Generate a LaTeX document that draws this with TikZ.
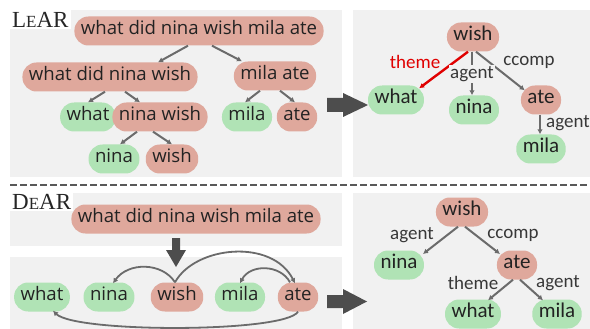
\documentclass[tikz,border=0pt]{standalone}
\usepackage{fontspec}
\usetikzlibrary{arrows.meta,calc}
\newfontfamily\spanfont{Open Sans}
\newfontfamily\graphfont{Carlito}
\newfontfamily\tagfont{Liberation Serif}
\definecolor{panel}{HTML}{F1F1F1}
\definecolor{salmon}{HTML}{DFA89C}
\definecolor{mint}{HTML}{B0E3B5}
\definecolor{edgegray}{HTML}{6B6B6B}
\definecolor{bigarrow}{HTML}{4D4D4D}
\definecolor{txt}{HTML}{222222}
\definecolor{lbltxt}{HTML}{383838}
\definecolor{hilite}{HTML}{E00000}
% hand-made small caps for the method names
\newcommand{\tagbig}[1]{{\fontsize{23}{23}\selectfont #1}}
\newcommand{\tagsml}[1]{{\fontsize{17}{17}\selectfont #1}}
\tikzset{
  tok/.style={rounded corners=14pt, minimum height=29pt, inner xsep=6.5pt, inner ysep=0pt,
    text=txt, text height=0.74em, text depth=0.1em},
  rd/.style={tok, fill=salmon},
  gr/.style={tok, fill=mint},
  spanf/.style={font=\spanfont\fontsize{18.6}{18.6}\selectfont},
  graphf/.style={font=\graphfont\fontsize{21}{21}\selectfont},
  lbl/.style={font=\graphfont\fontsize{19}{19}\selectfont, text=lbltxt, inner sep=1pt},
  edge/.style={draw=edgegray, line width=2pt, -{Latex[length=5pt,width=5.5pt]}},
  arc/.style={draw=edgegray, line width=1.8pt, -{Latex[length=5pt,width=5.5pt]}},
  bgpanel/.style={fill=panel},
  tag/.style={font=\tagfont, fill=white, inner sep=2pt, anchor=north west, text=black!85},
}
\begin{document}
\begin{tikzpicture}[x=1pt,y=-1pt]
\useasboundingbox (0,0) rectangle (590,329);

% background panels
\path[bgpanel] (10,10) rectangle (342,177);
\path[bgpanel] (353,10) rectangle (590,177);
\path[bgpanel] (10,193) rectangle (342,246);
\path[bgpanel] (10,257) rectangle (342,329);
\path[bgpanel] (353,193) rectangle (590,329);
\draw[black!65, line width=1.3pt, dash pattern=on 6.5pt off 3.5pt] (10,185) -- (590,185);

\node[tag] (lear) at (10,10) {\tagbig{L}\tagsml{E}\tagbig{AR}};
\node[tag] (dear) at (10,192) {\tagbig{D}\tagsml{E}\tagbig{AR}};

% ---------- LeAR: span tree ----------
\begin{scope}[spanf]
\node[rd] (root) at (199,31) {what did nina wish mila ate};
\node[rd] (a1) at (110,77) {what did nina wish};
\node[rd] (a2) at (275,76) {mila ate};
\node[gr] (b1) at (88,117) {what};
\node[rd] (b2) at (160,117) {nina wish};
\node[gr] (b3) at (247,117) {mila};
\node[rd] (b4) at (297,117) {ate};
\node[gr] (c1) at (114,159) {nina};
\node[rd] (c2) at (172,159) {wish};
\end{scope}
\draw[edge] ($(root.south)+(-11,0)$) -- ($(a1.north)+(48,0)$);
\draw[edge] ($(root.south)+(13,0)$) -- ($(a2.north)+(-33,0)$);
\draw[edge] ($(a1.south)+(-5,0)$) -- ($(b1.north)+(0,0)$);
\draw[edge] ($(a1.south)+(15,0)$) -- ($(b2.north)+(-20,0)$);
\draw[edge] ($(b2.south)+(-23,0)$) -- ($(c1.north)+(6,0)$);
\draw[edge] ($(b2.south)+(-7,0)$) -- ($(c2.north)+(0,0)$);
\draw[edge] ($(a2.south)+(-15,0)$) -- ($(b3.north)+(-2,0)$);
\draw[edge] ($(a2.south)+(5,0)$) -- ($(b4.north)+(-2,0)$);

% ---------- LeAR: resulting graph ----------
\begin{scope}[graphf]
\node[rd] (tw) at (473,37) {wish};
\node[gr] (twh) at (396,100) {what};
\node[gr] (tn) at (474,110) {nina};
\node[rd] (ta) at (541,100) {ate};
\node[gr] (tm) at (541,149) {mila};
\end{scope}
\draw[edge, draw=hilite, line width=2.4pt] ($(tw.south)+(-5,0)$) -- ($(twh.north east)+(-5,3)$);
\draw[edge] ($(tw.south)+(-1,0)$) -- ($(tn.north)+(-2,0)$);
\draw[edge] ($(tw.south)+(3,0)$) -- ($(ta.north west)+(4,5)$);
\draw[edge] ($(ta.south)+(-1,0)$) -- ($(tm.north)+(-1,0)$);
\node[lbl, text=hilite] (l1) at (415,62) {theme};
\node[lbl, fill=panel] (l2) at (472,74) {agent};
\node[lbl] (l3) at (529,62) {ccomp};
\node[lbl] (l4) at (568,123) {agent};

% big arrows between panels
\fill[bigarrow] (327,98) -- (343,98) -- (343,93) -- (368,105) -- (343,117) -- (343,112) -- (327,112) -- cycle;
\fill[bigarrow] (327,295) -- (343,295) -- (343,289) -- (367,301.5) -- (343,314) -- (343,308) -- (327,308) -- cycle;

% ---------- DeAR: input and word sequence ----------
\node[rd, spanf] (droot) at (196,219) {what did nina wish mila ate};
\fill[bigarrow] (172,238) -- (180,238) -- (180,250) -- (186,250) -- (176,267) -- (166,250) -- (172,250) -- cycle;
\begin{scope}[spanf]
\node[gr] (dwh) at (42,297) {what};
\node[gr] (dn) at (109,297) {nina};
\node[rd] (dws) at (177,297) {wish};
\node[gr] (dm) at (240,297) {mila};
\node[rd] (da) at (298,297) {ate};
\end{scope}
\draw[arc] ($(dws.north)+(-2,0)$) .. controls (162,262) and (128,262) .. ($(dn.north)+(4,1)$);
\draw[arc] ($(dws.north)+(-2,0)$) .. controls (195,246) and (272,238) .. ($(da.north)+(-3,1)$);
\draw[arc] ($(da.north)+(-8,0)$) .. controls (280,264) and (250,264) .. ($(dm.north)+(0,1)$);
\draw[arc] ($(da.south)+(0,0)$) .. controls (285,333) and (75,333) .. ($(dwh.south)+(11,-1)$);

% ---------- DeAR: resulting graph ----------
\begin{scope}[graphf]
\node[rd] (rw) at (462,212) {wish};
\node[gr] (rn) at (399,265) {nina};
\node[rd] (ra) at (517,265) {ate};
\node[gr] (rwh) at (473,314) {what};
\node[gr] (rm) at (557,314) {mila};
\end{scope}
\draw[edge] ($(rw.south)+(-4,0)$) -- ($(rn.center)+(24,-11)$);
\draw[edge] ($(rw.south)+(3,0)$) -- ($(ra.center)+(-17,-11)$);
\draw[edge] ($(ra.south)+(-4,0)$) -- ($(rwh.north)+(15,1)$);
\draw[edge] ($(ra.south)+(3,0)$) -- ($(rm.north)+(-14,1)$);
\node[lbl] (m1) at (412,235) {agent};
\node[lbl] (m2) at (513,235) {ccomp};
\node[lbl] (m3) at (473,283) {theme};
\node[lbl] (m4) at (558,283) {agent};
\end{tikzpicture}
\end{document}
